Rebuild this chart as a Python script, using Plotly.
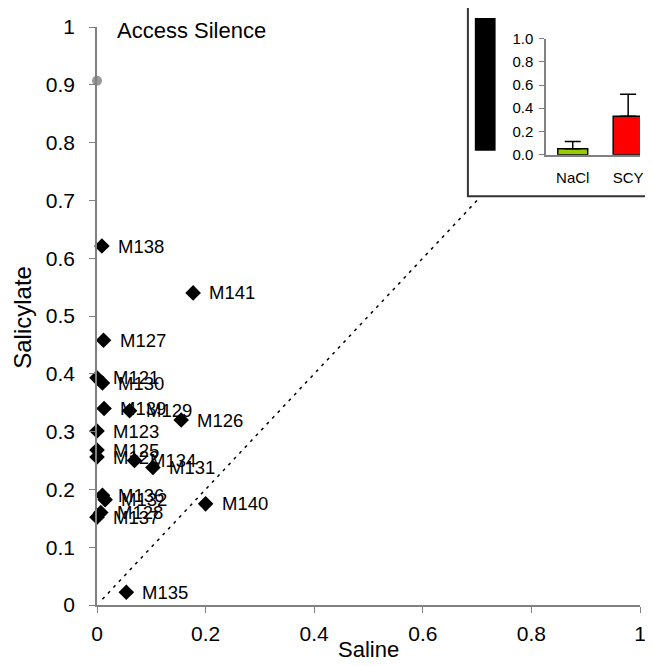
import plotly.graph_objects as go

# ---- main scatter data ----
names = ["M138", "M141", "M127", "M121", "M130", "M139", "M129", "M126", "M123",
         "M125", "M122", "M134", "M131", "M136", "M132", "M128", "M137", "M140", "M135"]
saline = [0.009, 0.177, 0.012, 0.0, 0.010, 0.013, 0.060, 0.155, 0.0,
          0.0, 0.0, 0.069, 0.103, 0.010, 0.015, 0.007, 0.0, 0.200, 0.054]
salicylate = [0.621, 0.540, 0.458, 0.393, 0.384, 0.340, 0.336, 0.320, 0.301,
              0.268, 0.256, 0.250, 0.238, 0.190, 0.182, 0.160, 0.152, 0.175, 0.022]

gray_x = [0.0]
gray_y = [0.907]

diag_x = [0.01, 0.705]
diag_y = [0.01, 0.705]

axis_ticks = [0, 0.2, 0.4, 0.6, 0.8, 1]
axis_ticktext = ["0", "0.2", "0.4", "0.6", "0.8", "1"]
y_ticks = [0, 0.1, 0.2, 0.3, 0.4, 0.5, 0.6, 0.7, 0.8, 0.9, 1]
y_ticktext = ["0", "0.1", "0.2", "0.3", "0.4", "0.5", "0.6", "0.7", "0.8", "0.9", "1"]

# ---- inset bar data ----
inset_cats = ["NaCl", "SCY"]
inset_pos = [0, 1]
inset_vals = [0.05, 0.332]
inset_err = [0.063, 0.188]
inset_colors = ["#99CC00", "#FF0000"]
inset_ticks = [0.0, 0.2, 0.4, 0.6, 0.8, 1.0]

FONT = "Liberation Sans, Arial, sans-serif"

# page body has an 8px margin: figure origin sits at screen (8, 8)
OFF = 8
W, H = 653 - OFF, 666 - OFF
L = 97 - OFF
R = W - (646 - OFF)
T = 21 - OFF
B = H - (605 - OFF)
pw = W - L - R
ph = H - T - B


def px2paper_x(px):
    return (px - OFF - L) / pw


def px2paper_y(py):
    return (H - B - (py - OFF)) / ph


fig = go.Figure()

fig.add_trace(go.Scatter(
    x=diag_x, y=diag_y, mode="lines",
    line=dict(color="black", width=1.5, dash="3px,5px"),
    hoverinfo="skip", showlegend=False))

fig.add_trace(go.Scatter(
    x=gray_x, y=gray_y, mode="markers",
    marker=dict(symbol="circle", size=10, color="#999999"),
    cliponaxis=False, showlegend=False))

fig.add_trace(go.Scatter(
    x=saline, y=salicylate, mode="markers",
    marker=dict(symbol="diamond", size=12, color="black"),
    cliponaxis=False, showlegend=False, text=names))

for n, xv, yv in zip(names, saline, salicylate):
    fig.add_annotation(x=xv, y=yv, xref="x", yref="y", text=n, showarrow=False,
                       xanchor="left", yanchor="middle", xshift=14,
                       font=dict(family=FONT, size=18.5, color="black"))

# inset bars
fig.add_trace(go.Bar(
    x=inset_pos, y=inset_vals, xaxis="x2", yaxis="y2", width=0.54,
    marker=dict(color=inset_colors, line=dict(color="black", width=1.5)),
    error_y=dict(type="data", symmetric=False, array=inset_err,
                 arrayminus=[0, 0], color="black", thickness=1.5, width=8),
    cliponaxis=False, showlegend=False))

# inset frame (white box) and black block
fig.add_shape(type="rect", xref="paper", yref="paper", layer="below",
              x0=px2paper_x(472), x1=px2paper_x(700),
              y0=px2paper_y(192), y1=px2paper_y(-20),
              fillcolor="white", line=dict(color="#333333", width=2))
fig.add_shape(type="rect", xref="paper", yref="paper", layer="below",
              x0=px2paper_x(479), x1=px2paper_x(500),
              y0=px2paper_y(146), y1=px2paper_y(12),
              fillcolor="black", line=dict(width=0))

fig.add_annotation(text="Access Silence", xref="paper", yref="paper",
                   x=px2paper_x(115), y=px2paper_y(25), xanchor="left", yanchor="middle",
                   showarrow=False, font=dict(family=FONT, size=22, color="black"))
fig.add_annotation(text="Salicylate", xref="paper", yref="paper",
                   x=px2paper_x(22), y=px2paper_y(314), xanchor="center", yanchor="middle",
                   textangle=-90, showarrow=False,
                   font=dict(family=FONT, size=24, color="black"))
fig.add_annotation(text="Saline", xref="paper", yref="paper",
                   x=px2paper_x(371), y=px2paper_y(650), xanchor="center", yanchor="middle",
                   showarrow=False, font=dict(family=FONT, size=22, color="black"))

fig.update_layout(
    width=W, height=H,
    margin=dict(l=L, r=R, t=T, b=B, pad=0),
    paper_bgcolor="white", plot_bgcolor="rgba(0,0,0,0)",
    font=dict(family=FONT, color="black"),
    xaxis=dict(range=[0, 1], tickvals=axis_ticks, ticktext=axis_ticktext,
               showgrid=False, zeroline=False, showline=True, linecolor="#808080",
               linewidth=1.5, ticks="outside", ticklen=6, tickcolor="#808080",
               tickfont=dict(family=FONT, size=21), ticklabelstandoff=3),
    yaxis=dict(range=[0, 1], tickvals=y_ticks, ticktext=y_ticktext,
               showgrid=False, zeroline=False, showline=True, linecolor="#808080",
               linewidth=1.5, ticks="outside", ticklen=6, tickcolor="#808080",
               tickfont=dict(family=FONT, size=21), ticklabelstandoff=10),
    xaxis2=dict(domain=[px2paper_x(551), 1.0], anchor="y2",
                range=[-0.482, 1.214], tickvals=inset_pos, ticktext=inset_cats,
                showgrid=False, zeroline=False, showline=True, linecolor="#808080",
                linewidth=1.5, ticks="", tickfont=dict(family=FONT, size=15),
                ticklabelstandoff=9),
    yaxis2=dict(domain=[px2paper_y(150), px2paper_y(32.7)], anchor="x2",
                range=[0, 1], tickvals=inset_ticks, tickformat=".1f",
                showgrid=False, zeroline=False, showline=True, linecolor="#808080",
                linewidth=1.5, ticks="outside", ticklen=5, tickcolor="#808080",
                tickfont=dict(family=FONT, size=15), ticklabelstandoff=3),
)

fig.write_html("out.html")
